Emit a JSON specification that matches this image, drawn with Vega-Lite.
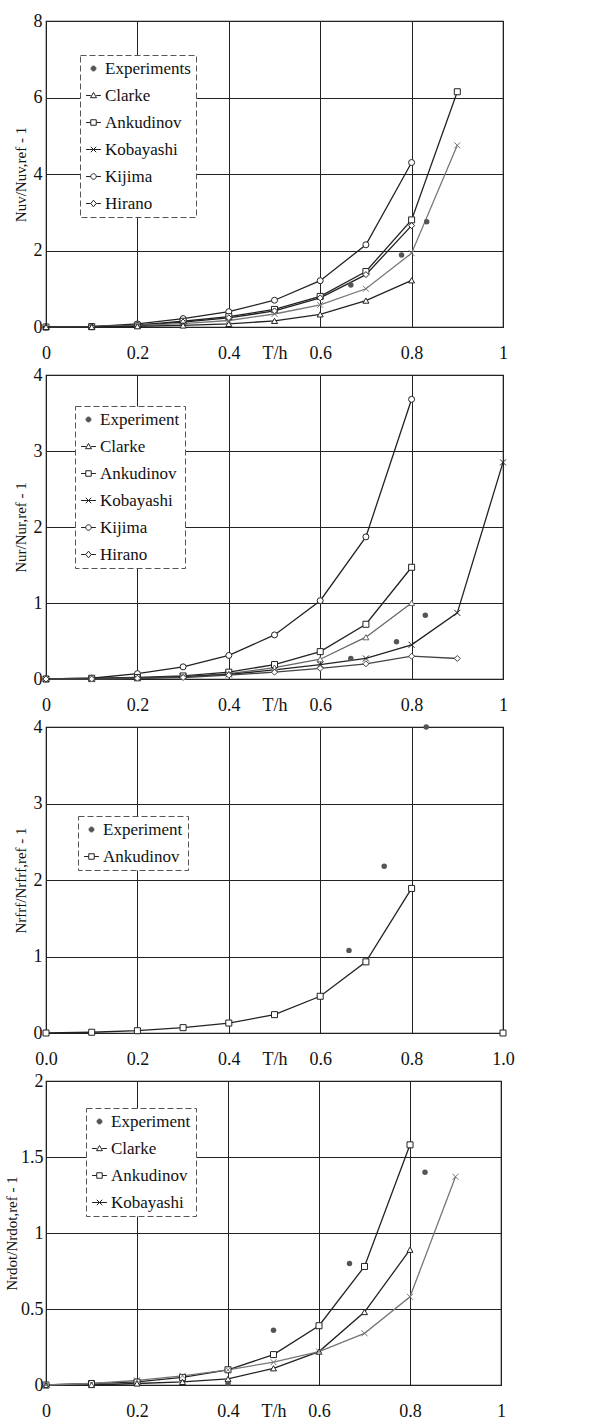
{
  "$schema": "https://vega.github.io/schema/vega-lite/v6.json",
  "padding": {"top": 11, "left": 3, "right": 5, "bottom": 0},
  "background": "white",
  "datasets": {
    "p1": [
      {"x": 0, "y": 0, "series": "Kijima"}, {"x": 0.1, "y": 0.01, "series": "Kijima"}, {"x": 0.2, "y": 0.08, "series": "Kijima"}, {"x": 0.3, "y": 0.22, "series": "Kijima"}, {"x": 0.4, "y": 0.4, "series": "Kijima"}, {"x": 0.5, "y": 0.7, "series": "Kijima"}, {"x": 0.6, "y": 1.21, "series": "Kijima"}, {"x": 0.7, "y": 2.15, "series": "Kijima"}, {"x": 0.8, "y": 4.3, "series": "Kijima"},
      {"x": 0, "y": 0, "series": "Ankudinov"}, {"x": 0.1, "y": 0.01, "series": "Ankudinov"}, {"x": 0.2, "y": 0.05, "series": "Ankudinov"}, {"x": 0.3, "y": 0.15, "series": "Ankudinov"}, {"x": 0.4, "y": 0.27, "series": "Ankudinov"}, {"x": 0.5, "y": 0.46, "series": "Ankudinov"}, {"x": 0.6, "y": 0.8, "series": "Ankudinov"}, {"x": 0.7, "y": 1.45, "series": "Ankudinov"}, {"x": 0.8, "y": 2.8, "series": "Ankudinov"}, {"x": 0.9, "y": 6.15, "series": "Ankudinov"},
      {"x": 0, "y": 0, "series": "Hirano"}, {"x": 0.1, "y": 0.01, "series": "Hirano"}, {"x": 0.2, "y": 0.05, "series": "Hirano"}, {"x": 0.3, "y": 0.13, "series": "Hirano"}, {"x": 0.4, "y": 0.24, "series": "Hirano"}, {"x": 0.5, "y": 0.42, "series": "Hirano"}, {"x": 0.6, "y": 0.76, "series": "Hirano"}, {"x": 0.7, "y": 1.37, "series": "Hirano"}, {"x": 0.8, "y": 2.65, "series": "Hirano"},
      {"x": 0, "y": 0, "series": "Kobayashi"}, {"x": 0.1, "y": 0.01, "series": "Kobayashi"}, {"x": 0.2, "y": 0.04, "series": "Kobayashi"}, {"x": 0.3, "y": 0.09, "series": "Kobayashi"}, {"x": 0.4, "y": 0.17, "series": "Kobayashi"}, {"x": 0.5, "y": 0.34, "series": "Kobayashi"}, {"x": 0.6, "y": 0.58, "series": "Kobayashi"}, {"x": 0.7, "y": 1.0, "series": "Kobayashi"}, {"x": 0.8, "y": 1.93, "series": "Kobayashi"}, {"x": 0.9, "y": 4.75, "series": "Kobayashi"},
      {"x": 0, "y": 0, "series": "Clarke"}, {"x": 0.1, "y": 0.0, "series": "Clarke"}, {"x": 0.2, "y": 0.02, "series": "Clarke"}, {"x": 0.3, "y": 0.04, "series": "Clarke"}, {"x": 0.4, "y": 0.08, "series": "Clarke"}, {"x": 0.5, "y": 0.16, "series": "Clarke"}, {"x": 0.6, "y": 0.33, "series": "Clarke"}, {"x": 0.7, "y": 0.69, "series": "Clarke"}, {"x": 0.8, "y": 1.22, "series": "Clarke"},
      {"x": 0.667, "y": 1.1, "series": "Experiments"}, {"x": 0.778, "y": 1.88, "series": "Experiments"}, {"x": 0.833, "y": 2.75, "series": "Experiments"}
    ],
    "p2": [
      {"x": 0, "y": 0, "series": "Kijima"}, {"x": 0.1, "y": 0.01, "series": "Kijima"}, {"x": 0.2, "y": 0.07, "series": "Kijima"}, {"x": 0.3, "y": 0.16, "series": "Kijima"}, {"x": 0.4, "y": 0.31, "series": "Kijima"}, {"x": 0.5, "y": 0.58, "series": "Kijima"}, {"x": 0.6, "y": 1.03, "series": "Kijima"}, {"x": 0.7, "y": 1.87, "series": "Kijima"}, {"x": 0.8, "y": 3.68, "series": "Kijima"},
      {"x": 0, "y": 0, "series": "Ankudinov"}, {"x": 0.1, "y": 0.01, "series": "Ankudinov"}, {"x": 0.2, "y": 0.02, "series": "Ankudinov"}, {"x": 0.3, "y": 0.04, "series": "Ankudinov"}, {"x": 0.4, "y": 0.09, "series": "Ankudinov"}, {"x": 0.5, "y": 0.19, "series": "Ankudinov"}, {"x": 0.6, "y": 0.36, "series": "Ankudinov"}, {"x": 0.7, "y": 0.72, "series": "Ankudinov"}, {"x": 0.8, "y": 1.47, "series": "Ankudinov"},
      {"x": 0, "y": 0, "series": "Clarke"}, {"x": 0.1, "y": 0.0, "series": "Clarke"}, {"x": 0.2, "y": 0.01, "series": "Clarke"}, {"x": 0.3, "y": 0.03, "series": "Clarke"}, {"x": 0.4, "y": 0.07, "series": "Clarke"}, {"x": 0.5, "y": 0.15, "series": "Clarke"}, {"x": 0.6, "y": 0.26, "series": "Clarke"}, {"x": 0.7, "y": 0.55, "series": "Clarke"}, {"x": 0.8, "y": 1.0, "series": "Clarke"},
      {"x": 0, "y": 0, "series": "Kobayashi"}, {"x": 0.1, "y": 0.0, "series": "Kobayashi"}, {"x": 0.2, "y": 0.01, "series": "Kobayashi"}, {"x": 0.3, "y": 0.03, "series": "Kobayashi"}, {"x": 0.4, "y": 0.06, "series": "Kobayashi"}, {"x": 0.5, "y": 0.12, "series": "Kobayashi"}, {"x": 0.6, "y": 0.19, "series": "Kobayashi"}, {"x": 0.7, "y": 0.27, "series": "Kobayashi"}, {"x": 0.8, "y": 0.45, "series": "Kobayashi"}, {"x": 0.9, "y": 0.87, "series": "Kobayashi"}, {"x": 1.0, "y": 2.85, "series": "Kobayashi"},
      {"x": 0, "y": 0, "series": "Hirano"}, {"x": 0.1, "y": 0.0, "series": "Hirano"}, {"x": 0.2, "y": 0.01, "series": "Hirano"}, {"x": 0.3, "y": 0.02, "series": "Hirano"}, {"x": 0.4, "y": 0.05, "series": "Hirano"}, {"x": 0.5, "y": 0.09, "series": "Hirano"}, {"x": 0.6, "y": 0.14, "series": "Hirano"}, {"x": 0.7, "y": 0.2, "series": "Hirano"}, {"x": 0.8, "y": 0.3, "series": "Hirano"}, {"x": 0.9, "y": 0.27, "series": "Hirano"},
      {"x": 0.667, "y": 0.27, "series": "Experiment"}, {"x": 0.767, "y": 0.49, "series": "Experiment"}, {"x": 0.83, "y": 0.84, "series": "Experiment"}
    ],
    "p3": [
      {"x": 0, "y": 0, "series": "Ankudinov"}, {"x": 0.1, "y": 0.01, "series": "Ankudinov"}, {"x": 0.2, "y": 0.03, "series": "Ankudinov"}, {"x": 0.3, "y": 0.07, "series": "Ankudinov"}, {"x": 0.4, "y": 0.13, "series": "Ankudinov"}, {"x": 0.5, "y": 0.24, "series": "Ankudinov"}, {"x": 0.6, "y": 0.48, "series": "Ankudinov"}, {"x": 0.7, "y": 0.93, "series": "Ankudinov"}, {"x": 0.8, "y": 1.89, "series": "Ankudinov"}, {"x": 0.9, "y": null, "series": "Ankudinov"}, {"x": 1.0, "y": 0, "series": "Ankudinov"},
      {"x": 0.663, "y": 1.08, "series": "Experiment"}, {"x": 0.74, "y": 2.18, "series": "Experiment"}, {"x": 0.832, "y": 4.0, "series": "Experiment"}
    ],
    "p4": [
      {"x": 0, "y": 0, "series": "Ankudinov"}, {"x": 0.1, "y": 0.01, "series": "Ankudinov"}, {"x": 0.2, "y": 0.02, "series": "Ankudinov"}, {"x": 0.3, "y": 0.05, "series": "Ankudinov"}, {"x": 0.4, "y": 0.1, "series": "Ankudinov"}, {"x": 0.5, "y": 0.2, "series": "Ankudinov"}, {"x": 0.6, "y": 0.39, "series": "Ankudinov"}, {"x": 0.7, "y": 0.78, "series": "Ankudinov"}, {"x": 0.8, "y": 1.58, "series": "Ankudinov"},
      {"x": 0, "y": 0, "series": "Clarke"}, {"x": 0.1, "y": 0.0, "series": "Clarke"}, {"x": 0.2, "y": 0.01, "series": "Clarke"}, {"x": 0.3, "y": 0.02, "series": "Clarke"}, {"x": 0.4, "y": 0.04, "series": "Clarke"}, {"x": 0.5, "y": 0.11, "series": "Clarke"}, {"x": 0.6, "y": 0.22, "series": "Clarke"}, {"x": 0.7, "y": 0.48, "series": "Clarke"}, {"x": 0.8, "y": 0.89, "series": "Clarke"},
      {"x": 0, "y": 0, "series": "Kobayashi"}, {"x": 0.1, "y": 0.01, "series": "Kobayashi"}, {"x": 0.2, "y": 0.03, "series": "Kobayashi"}, {"x": 0.3, "y": 0.06, "series": "Kobayashi"}, {"x": 0.4, "y": 0.1, "series": "Kobayashi"}, {"x": 0.5, "y": 0.15, "series": "Kobayashi"}, {"x": 0.6, "y": 0.22, "series": "Kobayashi"}, {"x": 0.7, "y": 0.34, "series": "Kobayashi"}, {"x": 0.8, "y": 0.58, "series": "Kobayashi"}, {"x": 0.9, "y": 1.37, "series": "Kobayashi"},
      {"x": 0.4, "y": 0.01, "series": "Experiment"}, {"x": 0.5, "y": 0.36, "series": "Experiment"}, {"x": 0.667, "y": 0.8, "series": "Experiment"}, {"x": 0.833, "y": 1.4, "series": "Experiment"}
    ]
  },
  "vconcat": [
    {
      "width": 457, "height": 306,
      "data": {"name": "p1"},
      "encoding": {
        "x": {"field": "x", "type": "quantitative", "scale": {"domain": [0, 1], "nice": false}, "axis": {"values": [0, 0.2, 0.4, 0.6, 0.8, 1], "labelExpr": "'' + datum.value", "title": "T/h"}},
        "y": {"field": "y", "type": "quantitative", "scale": {"domain": [0, 8], "nice": false}, "axis": {"values": [0, 2, 4, 6, 8], "title": "Nuv/Nuv,ref - 1"}}
      },
      "resolve": {"scale": {"shape": "independent", "fill": "independent", "stroke": "independent"}},
      "layer": [
        {
          "transform": [{"filter": "datum.series !== 'Experiments'"}],
          "mark": {"type": "line", "strokeWidth": 1.3},
          "encoding": {"stroke": {"field": "series", "type": "nominal", "legend": null,
            "scale": {"domain": ["Clarke", "Ankudinov", "Kobayashi", "Kijima", "Hirano"], "range": ["#222", "#222", "#777", "#222", "#222"]}}}
        },
        {
          "transform": [{"filter": "datum.series !== 'Experiments'"}],
          "mark": {"type": "point", "size": 36, "strokeWidth": 1, "opacity": 1, "filled": true, "fill": "white"},
          "encoding": {
            "stroke": {"field": "series", "type": "nominal", "legend": null,
              "scale": {"domain": ["Clarke", "Ankudinov", "Kobayashi", "Kijima", "Hirano"], "range": ["#222", "#222", "#777", "#222", "#222"]}},
            "shape": {"field": "series", "type": "nominal", "legend": null,
              "scale": {"domain": ["Clarke", "Ankudinov", "Kobayashi", "Kijima", "Hirano"], "range": ["triangle-up", "square", "M-1,-1L1,1M-1,1L1,-1", "circle", "diamond"]}}
          }
        },
        {
          "transform": [{"filter": "datum.series === 'Experiments'"}],
          "mark": {"type": "circle", "size": 30, "color": "#555", "opacity": 1}
        },
        {
          "mark": {"type": "point", "opacity": 0},
          "encoding": {
            "shape": {"field": "series", "type": "nominal",
              "scale": {"domain": ["Experiments", "Clarke", "Ankudinov", "Kobayashi", "Kijima", "Hirano"], "range": [
                "M-0.9,0A0.9,0.9 0 1,0 0.9,0A0.9,0.9 0 1,0 -0.9,0Z",
                "M-2.7,0H-1M1,0H2.7M0,-1.1L1.1,0.8H-1.1Z",
                "M-2.7,0H-1M1,0H2.7M-1,-1H1V1H-1Z",
                "M-2.7,0H2.7M-1,-1L1,1M-1,1L1,-1",
                "M-2.7,0H-1M1,0H2.7M-1,0A1,1 0 1,0 1,0A1,1 0 1,0 -1,0Z",
                "M-2.7,0H-1M1,0H2.7M0,-1.2L1,0L0,1.2L-1,0Z"]},
              "legend": {"title": null, "orient": "none", "legendX": 34, "legendY": 34}},
            "fill": {"field": "series", "type": "nominal",
              "scale": {"domain": ["Experiments", "Clarke", "Ankudinov", "Kobayashi", "Kijima", "Hirano"], "range": ["#555", "white", "white", "white", "white", "white"]}},
            "stroke": {"field": "series", "type": "nominal",
              "scale": {"domain": ["Experiments", "Clarke", "Ankudinov", "Kobayashi", "Kijima", "Hirano"], "range": ["#555", "#222", "#222", "#222", "#222", "#222"]}}
          }
        }
      ]
    },
    {
      "width": 457, "height": 304,
      "data": {"name": "p2"},
      "encoding": {
        "x": {"field": "x", "type": "quantitative", "scale": {"domain": [0, 1], "nice": false}, "axis": {"values": [0, 0.2, 0.4, 0.6, 0.8, 1], "labelExpr": "'' + datum.value", "title": "T/h"}},
        "y": {"field": "y", "type": "quantitative", "scale": {"domain": [0, 4], "nice": false}, "axis": {"values": [0, 1, 2, 3, 4], "title": "Nur/Nur,ref - 1"}}
      },
      "resolve": {"scale": {"shape": "independent", "fill": "independent", "stroke": "independent"}},
      "layer": [
        {
          "transform": [{"filter": "datum.series !== 'Experiment'"}],
          "mark": {"type": "line", "strokeWidth": 1.3},
          "encoding": {"stroke": {"field": "series", "type": "nominal", "legend": null,
            "scale": {"domain": ["Clarke", "Ankudinov", "Kobayashi", "Kijima", "Hirano"], "range": ["#666", "#222", "#222", "#222", "#444"]}}}
        },
        {
          "transform": [{"filter": "datum.series !== 'Experiment'"}],
          "mark": {"type": "point", "size": 36, "strokeWidth": 1, "opacity": 1, "filled": true, "fill": "white"},
          "encoding": {
            "stroke": {"field": "series", "type": "nominal", "legend": null,
              "scale": {"domain": ["Clarke", "Ankudinov", "Kobayashi", "Kijima", "Hirano"], "range": ["#666", "#222", "#222", "#222", "#444"]}},
            "shape": {"field": "series", "type": "nominal", "legend": null,
              "scale": {"domain": ["Clarke", "Ankudinov", "Kobayashi", "Kijima", "Hirano"], "range": ["triangle-up", "square", "M-1,-1L1,1M-1,1L1,-1", "circle", "diamond"]}}
          }
        },
        {
          "transform": [{"filter": "datum.series === 'Experiment'"}],
          "mark": {"type": "circle", "size": 30, "color": "#555", "opacity": 1}
        },
        {
          "mark": {"type": "point", "opacity": 0},
          "encoding": {
            "shape": {"field": "series", "type": "nominal",
              "scale": {"domain": ["Experiment", "Clarke", "Ankudinov", "Kobayashi", "Kijima", "Hirano"], "range": [
                "M-0.9,0A0.9,0.9 0 1,0 0.9,0A0.9,0.9 0 1,0 -0.9,0Z",
                "M-2.7,0H-1M1,0H2.7M0,-1.1L1.1,0.8H-1.1Z",
                "M-2.7,0H-1M1,0H2.7M-1,-1H1V1H-1Z",
                "M-2.7,0H2.7M-1,-1L1,1M-1,1L1,-1",
                "M-2.7,0H-1M1,0H2.7M-1,0A1,1 0 1,0 1,0A1,1 0 1,0 -1,0Z",
                "M-2.7,0H-1M1,0H2.7M0,-1.2L1,0L0,1.2L-1,0Z"]},
              "legend": {"title": null, "orient": "none", "legendX": 29, "legendY": 31}},
            "fill": {"field": "series", "type": "nominal",
              "scale": {"domain": ["Experiment", "Clarke", "Ankudinov", "Kobayashi", "Kijima", "Hirano"], "range": ["#555", "white", "white", "white", "white", "white"]}},
            "stroke": {"field": "series", "type": "nominal",
              "scale": {"domain": ["Experiment", "Clarke", "Ankudinov", "Kobayashi", "Kijima", "Hirano"], "range": ["#555", "#222", "#222", "#222", "#222", "#222"]}}
          }
        }
      ]
    },
    {
      "width": 457, "height": 306,
      "data": {"name": "p3"},
      "encoding": {
        "x": {"field": "x", "type": "quantitative", "scale": {"domain": [0, 1], "nice": false}, "axis": {"values": [0, 0.2, 0.4, 0.6, 0.8, 1], "format": ".1f", "title": "T/h"}},
        "y": {"field": "y", "type": "quantitative", "scale": {"domain": [0, 4], "nice": false}, "axis": {"values": [0, 1, 2, 3, 4], "title": "Nrfrf/Nrfrf,ref - 1"}}
      },
      "resolve": {"scale": {"shape": "independent", "fill": "independent", "stroke": "independent"}},
      "layer": [
        {
          "transform": [{"filter": "datum.series !== 'Experiment'"}],
          "mark": {"type": "line", "strokeWidth": 1.3, "color": "#222"}
        },
        {
          "transform": [{"filter": "datum.series !== 'Experiment'"}],
          "mark": {"type": "point", "size": 36, "strokeWidth": 1, "opacity": 1, "filled": true, "fill": "white", "stroke": "#222", "shape": "square"}
        },
        {
          "transform": [{"filter": "datum.series === 'Experiment'"}],
          "mark": {"type": "circle", "size": 30, "color": "#555", "opacity": 1}
        },
        {
          "mark": {"type": "point", "opacity": 0},
          "encoding": {
            "shape": {"field": "series", "type": "nominal",
              "scale": {"domain": ["Experiment", "Ankudinov"], "range": [
                "M-0.9,0A0.9,0.9 0 1,0 0.9,0A0.9,0.9 0 1,0 -0.9,0Z",
                "M-2.7,0H-1M1,0H2.7M-1,-1H1V1H-1Z"]},
              "legend": {"title": null, "orient": "none", "legendX": 32, "legendY": 89}},
            "fill": {"field": "series", "type": "nominal",
              "scale": {"domain": ["Experiment", "Ankudinov"], "range": ["#555", "white"]}},
            "stroke": {"field": "series", "type": "nominal",
              "scale": {"domain": ["Experiment", "Ankudinov"], "range": ["#555", "#222"]}}
          }
        }
      ]
    },
    {
      "width": 455, "height": 304,
      "data": {"name": "p4"},
      "encoding": {
        "x": {"field": "x", "type": "quantitative", "scale": {"domain": [0, 1], "nice": false}, "axis": {"values": [0, 0.2, 0.4, 0.6, 0.8, 1], "labelExpr": "'' + datum.value", "title": "T/h"}},
        "y": {"field": "y", "type": "quantitative", "scale": {"domain": [0, 2], "nice": false}, "axis": {"values": [0, 0.5, 1, 1.5, 2], "labelExpr": "'' + datum.value", "title": "Nrdot/Nrdot,ref - 1", "titlePadding": 1, "labelPadding": 3}}
      },
      "resolve": {"scale": {"shape": "independent", "fill": "independent", "stroke": "independent"}},
      "layer": [
        {
          "transform": [{"filter": "datum.series !== 'Experiment'"}],
          "mark": {"type": "line", "strokeWidth": 1.3},
          "encoding": {"stroke": {"field": "series", "type": "nominal", "legend": null,
            "scale": {"domain": ["Clarke", "Ankudinov", "Kobayashi"], "range": ["#222", "#222", "#777"]}}}
        },
        {
          "transform": [{"filter": "datum.series !== 'Experiment'"}],
          "mark": {"type": "point", "size": 36, "strokeWidth": 1, "opacity": 1, "filled": true, "fill": "white"},
          "encoding": {
            "stroke": {"field": "series", "type": "nominal", "legend": null,
              "scale": {"domain": ["Clarke", "Ankudinov", "Kobayashi"], "range": ["#222", "#222", "#777"]}},
            "shape": {"field": "series", "type": "nominal", "legend": null,
              "scale": {"domain": ["Clarke", "Ankudinov", "Kobayashi"], "range": ["triangle-up", "square", "M-1,-1L1,1M-1,1L1,-1"]}}
          }
        },
        {
          "transform": [{"filter": "datum.series === 'Experiment'"}],
          "mark": {"type": "circle", "size": 30, "color": "#555", "opacity": 1}
        },
        {
          "mark": {"type": "point", "opacity": 0},
          "encoding": {
            "shape": {"field": "series", "type": "nominal",
              "scale": {"domain": ["Experiment", "Clarke", "Ankudinov", "Kobayashi"], "range": [
                "M-0.9,0A0.9,0.9 0 1,0 0.9,0A0.9,0.9 0 1,0 -0.9,0Z",
                "M-2.7,0H-1M1,0H2.7M0,-1.1L1.1,0.8H-1.1Z",
                "M-2.7,0H-1M1,0H2.7M-1,-1H1V1H-1Z",
                "M-2.7,0H2.7M-1,-1L1,1M-1,1L1,-1"]},
              "legend": {"title": null, "orient": "none", "legendX": 40, "legendY": 27}},
            "fill": {"field": "series", "type": "nominal",
              "scale": {"domain": ["Experiment", "Clarke", "Ankudinov", "Kobayashi"], "range": ["#555", "white", "white", "white"]}},
            "stroke": {"field": "series", "type": "nominal",
              "scale": {"domain": ["Experiment", "Clarke", "Ankudinov", "Kobayashi"], "range": ["#555", "#222", "#222", "#222"]}}
          }
        }
      ]
    }
  ],
  "resolve": {"scale": {"shape": "independent", "fill": "independent", "stroke": "independent"}},
  "spacing": 2,
  "config": {
    "font": "Liberation Serif",
    "view": {"stroke": "#111", "strokeWidth": 1.2},
    "axis": {
      "grid": true, "gridColor": "#222", "gridOpacity": 1, "gridWidth": 1,
      "domain": false, "ticks": false,
      "labelFont": "Liberation Serif", "labelFontSize": 18, "labelColor": "#111",
      "titleFont": "Liberation Serif", "titleFontWeight": "normal", "titleColor": "#111",
      "zindex": 0
    },
    "axisX": {"labelPadding": 17, "titleFontSize": 18, "titleY": 17, "titleBaseline": "top", "labelFlush": false},
    "axisY": {"labelPadding": 4, "titleFontSize": 15, "titlePadding": 5},
    "legend": {
      "labelFont": "Liberation Serif", "labelFontSize": 17, "labelColor": "#111",
      "labelOffset": 3, "rowPadding": 9, "padding": 5,
      "strokeColor": "#555", "strokeDash": [6, 3], "fillColor": "white",
      "symbolSize": 30, "symbolStrokeWidth": 1, "symbolOpacity": 1, "zindex": 1
    }
  }
}
